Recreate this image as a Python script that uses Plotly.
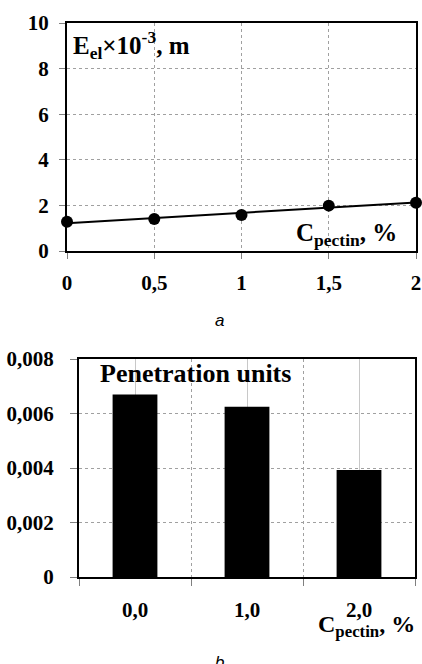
import numpy as np
import plotly.graph_objects as go

# ---- data (a) ----
conc_a = [0, 0.5, 1, 1.5, 2]
eel = [1.28, 1.40, 1.58, 1.99, 2.12]
xtick_a_vals = [0, 0.5, 1, 1.5, 2]
xtick_a_text = ["0", "0,5", "1", "1,5", "2"]
ytick_a_vals = [0, 2, 4, 6, 8, 10]

# ---- data (b) ----
cats_b = ["0,0", "1,0", "2,0"]
pen = [0.0067, 0.00625, 0.00393]
ytick_b_vals = [0, 0.002, 0.004, 0.006, 0.008]
ytick_b_text = ["0", "0,002", "0,004", "0,006", "0,008"]

W, H = 422, 664
SERIF = "Liberation Serif"
GRID = "#a0a0a0"
DASH = "3px,3px"

fig = go.Figure()

# trend line (linear fit)
k, b = np.polyfit(conc_a, eel, 1)
fig.add_trace(go.Scatter(x=[conc_a[0], conc_a[-1]], y=[k * conc_a[0] + b, k * conc_a[-1] + b],
                         mode="lines", line=dict(color="black", width=2),
                         xaxis="x", yaxis="y", showlegend=False, cliponaxis=False))
fig.add_trace(go.Scatter(x=conc_a, y=eel, mode="markers",
                         marker=dict(color="black", size=12),
                         xaxis="x", yaxis="y", showlegend=False, cliponaxis=False))

xb = list(range(len(cats_b)))
fig.add_trace(go.Bar(x=xb, y=pen, marker=dict(color="black", line=dict(width=0)),
                     width=0.4, xaxis="x2", yaxis="y2", showlegend=False))

def px_x(p):
    return p / W

def px_y(p):
    return (H - p) / H

tickfont_a = dict(family=SERIF, size=21, color="black", weight="bold")
tickfont_b = dict(family=SERIF, size=21, color="black", weight="bold")

fig.update_layout(
    width=W, height=H,
    margin=dict(l=0, r=0, t=0, b=0),
    paper_bgcolor="white", plot_bgcolor="white",
    font=dict(family=SERIF, color="black"),
    bargap=0.6,
    xaxis=dict(domain=[px_x(67), px_x(416)], range=[0, 2], anchor="y",
               tickvals=xtick_a_vals, ticktext=xtick_a_text, tickfont=tickfont_a,
               showgrid=True, gridcolor=GRID, griddash=DASH, gridwidth=1,
               ticks="outside", ticklen=6, tickcolor="#808080", ticklabelstandoff=6,
               showline=True, linecolor="black", linewidth=2, mirror=True,
               zeroline=False, automargin=False),
    yaxis=dict(domain=[px_y(251), px_y(23)], range=[0, 10], anchor="x",
               tickvals=ytick_a_vals, tickfont=tickfont_a,
               showgrid=True, gridcolor=GRID, griddash=DASH, gridwidth=1,
               ticks="outside", ticklen=6, tickcolor="#808080", ticklabelstandoff=6,
               showline=True, linecolor="black", linewidth=2, mirror=True,
               zeroline=False, automargin=False),
    xaxis2=dict(domain=[px_x(79), px_x(415)], range=[-0.5, 2.5], anchor="y2",
                tickvals=xb, ticktext=cats_b, tickfont=dict(family=SERIF, size=21, color="black", weight="bold"),
                showgrid=True, gridcolor="#c8c8c8", gridwidth=1,
                ticks="", ticklabelstandoff=13,
                minor=dict(tickvals=[-0.5, 0.5, 1.5, 2.5], ticks="outside", ticklen=7,
                           tickcolor="#808080", showgrid=True, gridcolor=GRID, griddash=DASH),
                showline=True, linecolor="black", linewidth=2, mirror=True,
                zeroline=False, automargin=False),
    yaxis2=dict(domain=[px_y(577), px_y(359)], range=[0, 0.008], anchor="x2",
                tickvals=ytick_b_vals, ticktext=ytick_b_text, tickfont=tickfont_b,
                showgrid=True, gridcolor=GRID, griddash=DASH, gridwidth=1,
                ticks="outside", ticklen=7, tickcolor="#808080", ticklabelstandoff=12,
                showline=True, linecolor="black", linewidth=2, mirror=True,
                zeroline=False, automargin=False),
)

ann_font = dict(family=SERIF, size=25, color="black")
fig.add_annotation(text="<b>E<sub>el</sub>×10<sup>-3</sup>, m</b>", xref="paper", yref="paper",
                   x=px_x(71), y=px_y(45), xanchor="left", yanchor="middle",
                   showarrow=False, font=ann_font)
fig.add_annotation(text="<b>C<sub>pectin</sub>, %</b>", xref="paper", yref="paper",
                   x=px_x(399), y=px_y(234), xanchor="right", yanchor="middle",
                   showarrow=False, font=ann_font)
fig.add_annotation(text="<i>a</i>", xref="paper", yref="paper",
                   x=px_x(219), y=px_y(320), xanchor="center", yanchor="middle",
                   showarrow=False, font=dict(family="Liberation Sans", size=17, color="black"))
fig.add_annotation(text="<b>Penetration units</b>", xref="paper", yref="paper",
                   x=px_x(98), y=px_y(373), xanchor="left", yanchor="middle",
                   showarrow=False, font=dict(family=SERIF, size=26, color="black"))
fig.add_annotation(text="<b>C<sub>pectin</sub>, %</b>", xref="paper", yref="paper",
                   x=px_x(417), y=px_y(626), xanchor="right", yanchor="middle",
                   showarrow=False, font=dict(family=SERIF, size=24, color="black"))
fig.add_annotation(text="<i>b</i>", xref="paper", yref="paper",
                   x=px_x(219), y=px_y(651), xanchor="center", yanchor="top",
                   showarrow=False, font=dict(family="Liberation Sans", size=17, color="black"))

fig.write_html("out.html", config={"displayModeBar": False},
               post_script="document.body.style.margin='0';document.body.style.overflow='hidden';")
